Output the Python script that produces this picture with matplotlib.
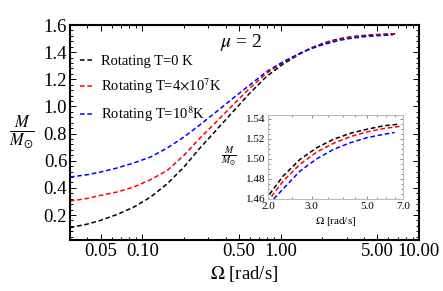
import numpy as np
import matplotlib
matplotlib.use("Agg")
import matplotlib.pyplot as plt
from matplotlib.ticker import FixedLocator, MultipleLocator, NullFormatter, FuncFormatter

plt.rcParams["font.family"] = "serif"
plt.rcParams["font.serif"] = ["Liberation Serif", "DejaVu Serif"]
plt.rcParams["mathtext.fontset"] = "stix"

# ============================================================
# Data (Omega in rad/s, M in solar masses)
# ============================================================
OMEGA_T0 = [0.030, 0.040, 0.050, 0.066, 0.087, 0.115, 0.152, 0.200, 0.259,
            0.342, 0.451, 0.596, 0.787, 1.04, 1.37, 1.65, 2.00, 2.30, 2.69,
            3.15, 3.68, 4.31, 5.04, 5.89, 6.79]
MASS_T0 = [0.107, 0.133, 0.161, 0.205, 0.259, 0.333, 0.432, 0.554, 0.690,
           0.825, 0.960, 1.096, 1.219, 1.312, 1.386, 1.430, 1.4627, 1.4829, 1.4996,
           1.5114, 1.5198, 1.5258, 1.5299, 1.5333, 1.5349]

OMEGA_T4E7 = [0.030, 0.040, 0.050, 0.066, 0.087, 0.115, 0.152, 0.200, 0.259,
              0.342, 0.451, 0.596, 0.787, 1.04, 1.37, 1.65, 2.03, 2.30, 2.69,
              3.15, 3.68, 4.31, 5.04, 5.89, 6.79]
MASS_T4E7 = [0.303, 0.322, 0.345, 0.370, 0.407, 0.461, 0.530, 0.640, 0.764,
             0.886, 1.010, 1.133, 1.243, 1.324, 1.388, 1.428, 1.4600, 1.4778, 1.4946,
             1.5071, 1.5158, 1.5225, 1.5272, 1.5306, 1.5326]

OMEGA_T1E8 = [0.030, 0.040, 0.050, 0.066, 0.087, 0.115, 0.152, 0.200, 0.259,
              0.342, 0.451, 0.596, 0.787, 1.04, 1.37, 1.65, 2.00, 2.30, 2.69,
              3.15, 3.68, 4.31, 5.04, 5.89, 6.47]
MASS_T1E8 = [0.480, 0.497, 0.517, 0.547, 0.584, 0.628, 0.695, 0.775, 0.862,
             0.960, 1.059, 1.157, 1.255, 1.329, 1.391, 1.424, 1.454, 1.470, 1.4879,
             1.5003, 1.5097, 1.5164, 1.5215, 1.5248, 1.5265]

SERIES = [
    (OMEGA_T0, MASS_T0, "black", "Rotating T=0 K"),
    (OMEGA_T4E7, MASS_T4E7, "#ff0000", r"Rotating T=4$\times$10$^7$K"),
    (OMEGA_T1E8, MASS_T1E8, "#0000ff", r"Rotating T=10$^8$K"),
]

MAIN_XTICKS = [0.05, 0.10, 0.50, 1.00, 5.00, 10.00]
MAIN_YTICKS = [0.2, 0.4, 0.6, 0.8, 1.0, 1.2, 1.4, 1.6]
INSET_XTICKS = [2.0, 3.0, 5.0, 7.0]
INSET_YTICKS = [1.46, 1.48, 1.50, 1.52, 1.54]

DASH = (0, (3.0, 1.8))


def style_frame(ax, color, width, length, minor_length, labelsize):
    for sp in ax.spines.values():
        sp.set_color(color)
        sp.set_linewidth(width)
    ax.tick_params(which="both", direction="in", top=True, right=True,
                   color="black", width=0.7, labelsize=labelsize, pad=2)
    ax.tick_params(which="major", length=length)
    ax.tick_params(which="minor", length=minor_length)


fig = plt.figure(figsize=(4.43, 2.91), dpi=100)

# main panel
ax = fig.add_axes([70 / 443, 51 / 291, 349 / 443, 215 / 291])
for om, m, col, lab in SERIES:
    ax.plot(om, m, color=col, linestyle=DASH, linewidth=1.1, label=lab)
ax.set_xscale("log")
ax.set_xlim(0.03, 10)
ax.set_ylim(0.016, 1.6)
ax.xaxis.set_major_locator(FixedLocator(MAIN_XTICKS))
ax.xaxis.set_major_formatter(FuncFormatter(lambda v, p: f"{v:.2f}"))
ax.xaxis.set_minor_formatter(NullFormatter())
ax.yaxis.set_major_locator(FixedLocator(MAIN_YTICKS))
ax.yaxis.set_major_formatter(FuncFormatter(lambda v, p: f"{v:.1f}"))
ax.yaxis.set_minor_locator(MultipleLocator(0.04))
style_frame(ax, "black", 1.5, 4, 2, 13.5)
ax.set_xlabel(r"$\Omega$ [rad/s]", fontsize=13.5, labelpad=3)
ax.set_ylabel(r"$\frac{M}{M_{\odot}}$", fontsize=17, rotation=0, labelpad=16,
              va="center")
ax.text(0.49, 0.92, r"$\mu$ = 2", transform=ax.transAxes, fontsize=14,
        ha="center", va="center")
ax.legend(loc="upper left", bbox_to_anchor=(0.0, 0.91), frameon=False,
          fontsize=10.5, handlelength=0.9, handletextpad=0.5, labelspacing=0.6,
          borderaxespad=0.3)

# inset panel
ins = fig.add_axes([268 / 443, 92 / 291, 135 / 443, 84 / 291])
for om, m, col, lab in SERIES:
    ins.plot(om, m, color=col, linestyle=DASH, linewidth=1.1)
ins.set_xscale("log")
ins.set_xlim(2.0, 7.0)
ins.set_ylim(1.46, 1.544)
ins.xaxis.set_major_locator(FixedLocator(INSET_XTICKS))
ins.xaxis.set_major_formatter(FuncFormatter(lambda v, p: f"{v:.1f}"))
ins.xaxis.set_minor_locator(FixedLocator([2.5, 3.5, 4.0, 4.5, 5.5, 6.0, 6.5]))
ins.xaxis.set_minor_formatter(NullFormatter())
ins.yaxis.set_major_locator(FixedLocator(INSET_YTICKS))
ins.yaxis.set_major_formatter(FuncFormatter(lambda v, p: f"{v:.2f}"))
ins.yaxis.set_minor_locator(MultipleLocator(0.005))
style_frame(ins, "#bbbbbb", 0.8, 2.5, 1.2, 8)
ins.tick_params(which="both", color="#888888")
ins.set_xlabel(r"$\Omega$ [rad/s]", fontsize=8, labelpad=3)
ins.set_ylabel(r"$\frac{M}{M_{\odot}}$", fontsize=10, rotation=0, labelpad=12,
               va="center")

fig.savefig("out.png", dpi=100)
